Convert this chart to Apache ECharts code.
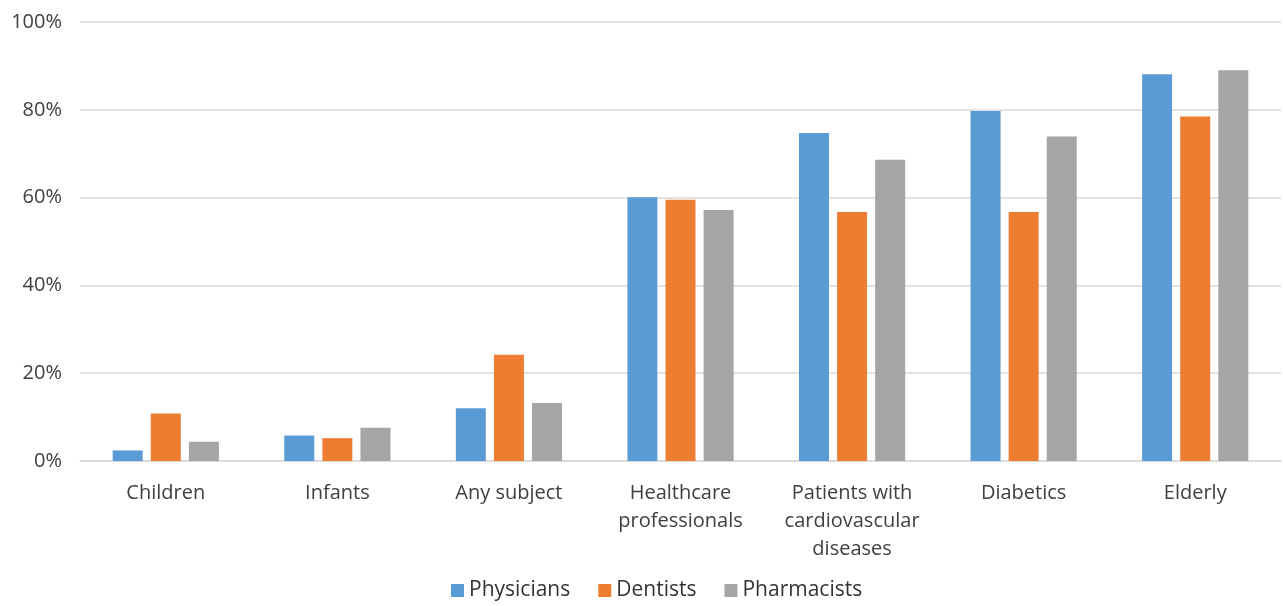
<!DOCTYPE html>
<html>
<head>
<meta charset="utf-8">
<script src="https://cdn.jsdelivr.net/npm/echarts@6/dist/echarts.min.js"></script>
<style>html,body{margin:0;padding:0;background:#fff;}#chart{width:1283px;height:606px;}</style>
</head>
<body>
<div id="chart"></div>
<script>
var categories = ['Children', 'Infants', 'Any subject', 'Healthcare\nprofessionals', 'Patients with\ncardiovascular\ndiseases', 'Diabetics', 'Elderly'];
var physicians = [2.4, 5.8, 12.0, 60.1, 74.7, 79.7, 88.1];
var dentists = [10.8, 5.2, 24.2, 59.5, 56.7, 56.7, 78.5];
var pharmacists = [4.4, 7.6, 13.2, 57.2, 68.6, 73.9, 89.0];
var yTicks = [0, 20, 40, 60, 80, 100];

var chart = echarts.init(document.getElementById('chart'));
var font = '"Open Sans", Lato, sans-serif';
var txt = '#404040';
function bar(name, data, color) {
  return {name: name, type: 'bar', data: data, barWidth: 30, barGap: '27%',
    itemStyle: {color: color}};
}
chart.setOption({
  animation: false,
  color: ['#5B9BD5', '#ED7D31', '#A5A5A5'],
  grid: {left: 80, right: 2, top: 22, bottom: 145},
  legend: {bottom: 0, left: 446, itemWidth: 13, itemHeight: 13, itemGap: 28,
    icon: 'rect', textStyle: {fontFamily: font, fontSize: 21, color: '#333'}},
  xAxis: {type: 'category', data: categories,
    axisLine: {lineStyle: {color: '#D9D9D9', width: 1.5}}, axisTick: {show: false},
    axisLabel: {fontFamily: font, fontSize: 20, color: txt, margin: 18, lineHeight: 28, interval: 0}},
  yAxis: {type: 'value', min: yTicks[0], max: yTicks[yTicks.length - 1], interval: 20,
    axisLabel: {formatter: '{value}%', fontFamily: font, fontSize: 20, color: txt, margin: 18},
    splitLine: {lineStyle: {color: '#D9D9D9', width: 1.5}}},
  series: [bar('Physicians', physicians, '#5B9BD5'), bar('Dentists', dentists, '#ED7D31'), bar('Pharmacists', pharmacists, '#A5A5A5')]
});
</script>
</body>
</html>
